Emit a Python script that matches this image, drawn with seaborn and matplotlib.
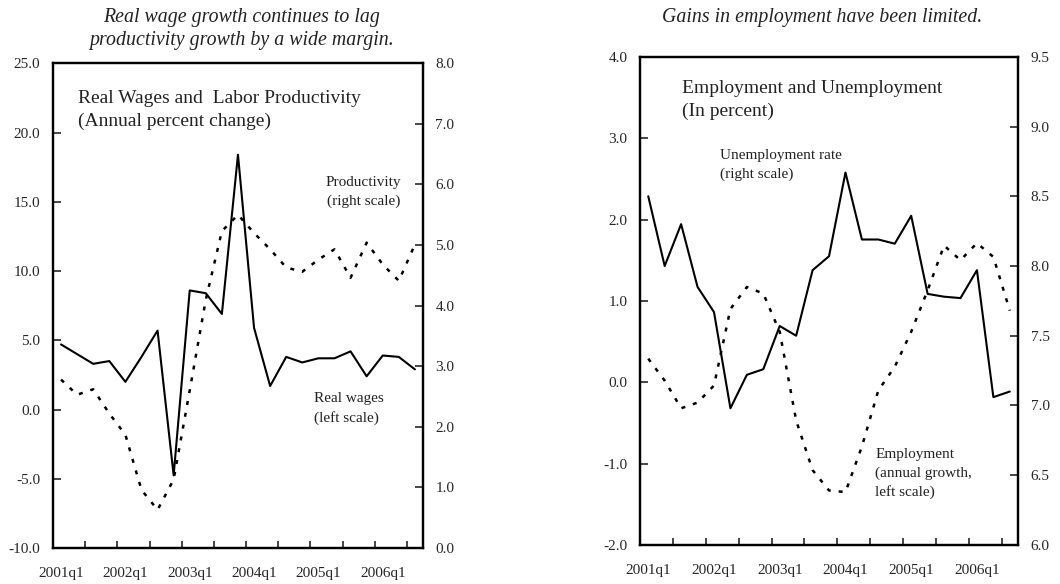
import numpy as np
import pandas as pd
import matplotlib.pyplot as plt
import seaborn as sns

# Quarterly data, 2001q1 - 2006q3
quarters = [f"{y}q{q}" for y in range(2001, 2007) for q in range(1, 5)][:23]

real_wages = [4.7, 4.0, 3.3, 3.5, 2.0, 3.8, 5.7, -4.75, 8.6, 8.4, 6.9, 18.4,
              5.9, 1.7, 3.8, 3.4, 3.7, 3.7, 4.2, 2.4, 3.9, 3.8, 2.9]
productivity = [2.78, 2.53, 2.62, 2.22, 1.87, 0.96, 0.63, 1.13, 2.6, 4.1, 5.23, 5.5,
                5.2, 4.93, 4.63, 4.56, 4.76, 4.93, 4.46, 5.04, 4.68, 4.41, 5.01]

unemployment = [8.5, 8.0, 8.3, 7.85, 7.67, 6.98, 7.22, 7.26, 7.57, 7.5, 7.97, 8.07,
                8.67, 8.19, 8.19, 8.16, 8.36, 7.8, 7.78, 7.77, 7.97, 7.06, 7.1]
employment = [0.29, 0.02, -0.32, -0.25, -0.04, 0.9, 1.17, 1.09, 0.62, -0.47, -1.08, -1.33,
              -1.35, -0.79, -0.1, 0.19, 0.62, 1.13, 1.68, 1.5, 1.71, 1.54, 0.88]

df = pd.DataFrame({'t': np.arange(len(quarters)), 'quarter': quarters,
                   'real_wages': real_wages, 'productivity': productivity,
                   'unemployment': unemployment, 'employment': employment})

sns.set_style('white')
plt.rcParams['font.family'] = ['Liberation Serif', 'DejaVu Serif']
plt.rcParams['text.color'] = '#222222'

fig = plt.figure(figsize=(10.6, 5.84), dpi=100)
ax1 = fig.add_axes([0.05, 0.0616, 0.349, 0.830])
ax3 = fig.add_axes([0.6038, 0.0668, 0.3566, 0.836])

solid = dict(color='black', linewidth=1.5)
dotted = dict(color='black', linewidth=1.8, linestyle=(0, (1.6, 3.2)))


def style_axes(ax, ax_r, ylim_l, yticks_l, ylim_r, yticks_r):
    ax.set_xlim(-0.5, 22.5)
    ax.set_ylim(*ylim_l)
    ax_r.set_ylim(*ylim_r)
    ax.set_yticks(yticks_l)
    ax.set_yticklabels([f"{v:.1f}" for v in yticks_l])
    ax_r.set_yticks(yticks_r)
    ax_r.set_yticklabels([f"{v:.1f}" for v in yticks_r])
    ax.set_xticks(range(0, 23, 4))
    ax.set_xticklabels(quarters[::4])
    ax.set_xticks(np.arange(1.5, 22, 2), minor=True)
    ax.tick_params(axis='x', which='major', length=0, pad=13.5, labelsize=11)
    ax.tick_params(axis='x', which='minor', direction='in', length=5, width=1.2, bottom=True)
    ax.tick_params(axis='y', direction='in', length=6, width=1.2, pad=9, labelsize=11, left=True)
    ax_r.tick_params(axis='y', direction='in', length=6, width=1.2, pad=9, labelsize=11, right=True)
    for a in (ax, ax_r):
        a.set_xlabel('')
        a.set_ylabel('')
        for s in a.spines.values():
            s.set_color('black')
            s.set_linewidth(1.6)
            s.set_visible(True)


# Left panel: real wages vs productivity
ax2 = ax1.twinx()
sns.lineplot(data=df, x='t', y='real_wages', ax=ax1, **solid)
sns.lineplot(data=df, x='t', y='productivity', ax=ax2, **dotted)
style_axes(ax1, ax2, (-10, 25), np.arange(-10, 25.1, 5), (0, 8), np.arange(0, 8.1, 1))
ax1.text(0.068, 0.945, 'Real Wages and  Labor Productivity\n(Annual percent change)',
         transform=ax1.transAxes, ha='left', va='top', fontsize=14, linespacing=1.45)
ax1.text(0.839, 0.767, 'Productivity\n(right scale)', transform=ax1.transAxes,
         ha='center', va='top', fontsize=11, linespacing=1.55)
ax1.text(0.705, 0.322, 'Real wages\n(left scale)', transform=ax1.transAxes,
         ha='left', va='top', fontsize=11, linespacing=1.55)

# Right panel: employment and unemployment
ax4 = ax3.twinx()
sns.lineplot(data=df, x='t', y='unemployment', ax=ax4, **solid)
sns.lineplot(data=df, x='t', y='employment', ax=ax3, **dotted)
style_axes(ax3, ax4, (-2, 4), np.arange(-2, 4.1, 1), (6, 9.5), np.arange(6, 9.51, 0.5))
ax3.text(0.11, 0.952, 'Employment and Unemployment\n(In percent)',
         transform=ax3.transAxes, ha='left', va='top', fontsize=14, linespacing=1.45)
ax3.text(0.212, 0.811, 'Unemployment rate\n(right scale)', transform=ax3.transAxes,
         ha='left', va='top', fontsize=11, linespacing=1.55)
ax3.text(0.622, 0.198, 'Employment\n(annual growth,\nleft scale)', transform=ax3.transAxes,
         ha='left', va='top', fontsize=11, linespacing=1.5)

# Headline captions
fig.text(0.228, 0.986, 'Real wage growth continues to lag\nproductivity growth by a wide margin.',
         ha='center', va='top', fontsize=14.3, style='italic', linespacing=1.3)
fig.text(0.776, 0.986, 'Gains in employment have been limited.',
         ha='center', va='top', fontsize=14.3, style='italic')

plt.savefig('out.png', dpi=100)
